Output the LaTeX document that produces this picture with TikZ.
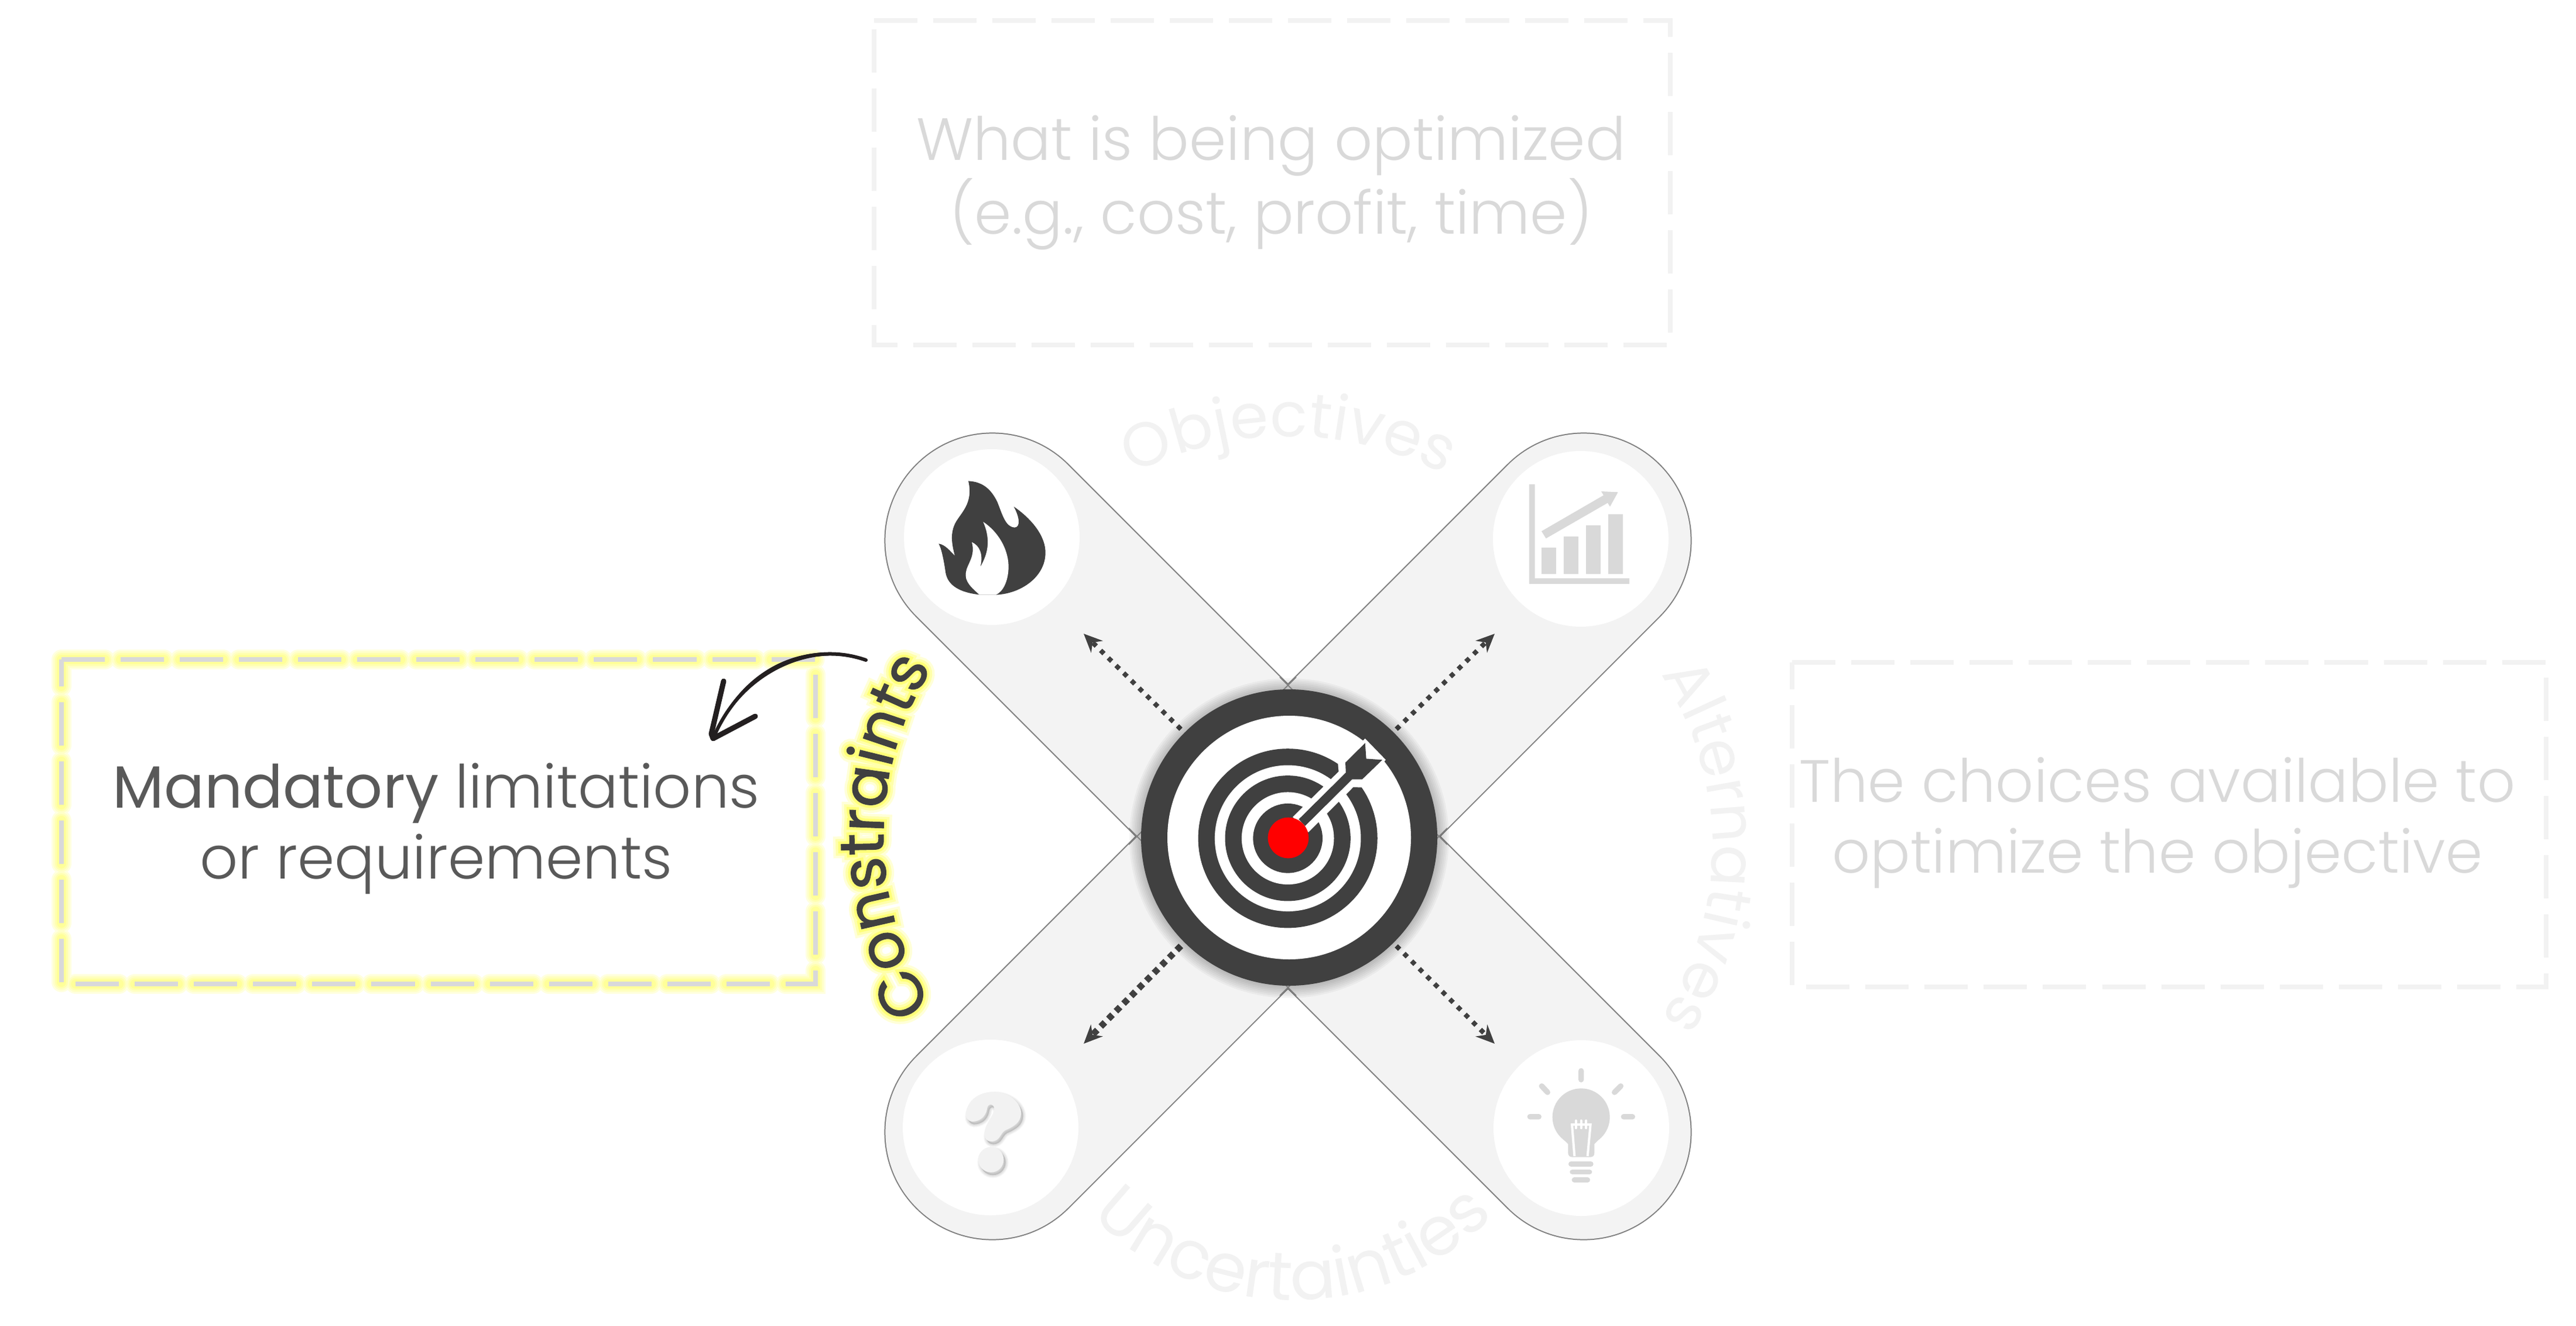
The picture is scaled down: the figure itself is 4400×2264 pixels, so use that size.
\documentclass[tikz,border=0pt]{standalone}
\usepackage{fontspec}
\usetikzlibrary{arrows.meta,calc,positioning}
\usetikzlibrary{decorations.text}
\setmainfont{Poppins Light}
\newfontfamily\popregular{Poppins}
\newfontfamily\glowwide{Poppins}[FakeBold=26]
\newfontfamily\glowmid{Poppins}[FakeBold=18]
\newfontfamily\glowthin{Poppins}[FakeBold=10]
\newfontfamily\popstroked{Poppins}[FakeBold=1.2]
\def\px{0.2845pt}
\definecolor{armgray}{HTML}{F3F3F3}
\definecolor{labelgray}{HTML}{F2F2F2}
\definecolor{edgegray}{HTML}{808080}
\definecolor{fadegray}{HTML}{D9D9D9}
\definecolor{darkicon}{HTML}{404040}
\definecolor{bodygray}{HTML}{595959}
\definecolor{penblack}{HTML}{231F20}
\newcommand{\bodysize}{\fontsize{28.95pt}{34.4pt}\selectfont}
\newcommand{\conssize}{\fontsize{30pt}{36pt}}
\tikzset{>={Stealth[length=9pt,width=8pt]}}
\tikzset{
  armedge/.style={line width=369*\px,edgegray,line cap=round},
  armfill/.style={line width=365*\px,armgray,line cap=round},
  iconback/.style={fill=white},
  dashframe/.style={line width=8.5*\px,dash pattern=on 74*\px off 27*\px},
  framenode/.style={minimum width=1286*\px,minimum height=552*\px,inner sep=0pt},
  bodytext/.style={align=center,font=\bodysize,inner sep=0pt},
  dotline/.style={->,darkicon,line width=8*\px,dash pattern=on 8*\px off 10.4*\px},
  curvelabel/.style 2 args={decorate,decoration={text along path,text align=center,text={|\popregular\fontsize{#1}{#1}\selectfont\color{labelgray}|#2}}},
  conslabel/.style 2 args={decorate,decoration={text along path,text align=center,text={|#1\conssize\selectfont\color{#2}|Constraints}}},
}
\newcommand{\conscurve}{plot[domain=220:140,samples=70] ({2051+542*cos(\x)},{1428-542*sin(\x)})}
\newcommand{\qmarkpath}{(150,185) .. controls (155,120) and (210,75) .. (290,72) .. controls (370,72) and (435,130) .. (432,185) .. controls (430,230) and (395,250) .. (350,270) .. controls (325,285) and (325,325) .. (280,327) .. controls (245,325) and (240,295) .. (250,260) .. controls (260,220) and (295,190) .. (295,160) .. controls (295,135) and (262,125) .. (258,160) .. controls (250,205) and (215,225) .. (180,225) .. controls (160,222) and (148,205) .. (150,185) -- cycle (278,420) circle (65)}

\begin{document}
\begin{tikzpicture}[x=0.01cm,y=-0.01cm]
\useasboundingbox (0,0) rectangle (4400,2264);
\coordinate (capnw) at (1695,923);
\coordinate (capne) at (2705,923);
\coordinate (capsw) at (1695,1933);
\coordinate (capse) at (2705,1933);

% the crossed arms
\draw [armedge] (capnw) -- (capse);
\draw [armedge] (capne) -- (capsw);
\draw [armfill] (capnw) -- (capse);
\draw [armfill] (capne) -- (capsw);
\fill [iconback] (1694,917) circle (150);
\fill [iconback] (2700,920) circle (150);
\fill [iconback] (1692,1925) circle (150);
\fill [iconback] (2701,1926) circle (150);

% flame
\begin{scope}[shift={(1500,780)},scale=.3333]
  \fill [darkicon] (462,124) .. controls (540,128) and (580,170) .. (610,230) .. controls (635,290) and (650,360) .. (700,362) .. controls (730,360) and (725,310) .. (695,255) .. controls (790,320) and (860,410) .. (857,495) .. controls (855,610) and (740,700) .. (603,707) -- (518,706) .. controls (420,695) and (355,660) .. (345,590) .. controls (338,540) and (325,470) .. (310,445) .. controls (345,450) and (370,485) .. (393,507) .. controls (375,440) and (370,390) .. (395,340) .. controls (420,290) and (490,240) .. (462,124) -- cycle;
  \fill [white] (538,333) .. controls (610,380) and (670,470) .. (668,570) .. controls (665,640) and (640,690) .. (603,707) -- (518,706) .. controls (480,670) and (440,640) .. (450,590) .. controls (455,550) and (500,510) .. (480,437) .. controls (520,455) and (540,500) .. (523,565) .. controls (560,500) and (580,430) .. (538,333) -- cycle;
\end{scope}

% chart
\begin{scope}[shift={(2540,780)},scale=.3333]
  \fill [fadegray] (216,141)--(245,141)--(245,622)--(729,622)--(729,651)--(216,651)--cycle;
  \fill [fadegray] (279,465) rectangle (354,600);
  \fill [fadegray] (393,408) rectangle (468,600);
  \fill [fadegray] (507,351) rectangle (582,600);
  \fill [fadegray] (621,295) rectangle (696,600);
  \fill [fadegray] (279,381)--(302,418)--(618,236)--(630,255)--(671,181)--(585,177)--(597,197)--cycle;
\end{scope}

% question mark
\begin{scope}[shift={(1600,1840)},scale=.3333]
  \foreach \w in {30,22,14,6}
    \fill [black,opacity=.035,draw=black,line width=\w*\px*.3333,shift={(10,14)}] \qmarkpath;
  \fill [labelgray] \qmarkpath;
\end{scope}

% lamp
\begin{scope}[shift={(2600,1820)},scale=.3333]
  \fill [fadegray] (302,262) circle (147);
  \fill [fadegray] (205,370) -- (235,400) -- (235,445) .. controls (235,460) and (245,467) .. (258,467) -- (348,467) .. controls (362,467) and (370,460) .. (370,445) -- (370,400) -- (400,370) -- cycle;
  \draw [fadegray,line width=28*\px*.3333,line cap=round] (302,25)--(302,70) (100,103)--(130,135) (505,103)--(473,135) (40,260)--(85,260) (520,260)--(565,260);
  \draw [fadegray,line width=26*\px*.3333,line cap=round] (250,502)--(352,502) (257,543)--(345,543) (267,584)--(335,584);
  \draw [white,line width=12*\px*.3333] (268,462)--(255,300)--(350,300)--(335,462);
  \draw [white,line width=12*\px*.3333,line cap=round] (275,280)--(275,318) (302,280)--(302,318) (328,280)--(328,318);
\end{scope}

% dotted arrows
\coordinate (tailnw) at (2017,1245);
\coordinate (tipnw) at (1851,1082);
\coordinate (tailne) at (2385,1245);
\coordinate (tipne) at (2553,1082);
\coordinate (tailsw) at (2017,1615);
\coordinate (tipsw) at (1851,1782);
\coordinate (tailse) at (2385,1615);
\coordinate (tipse) at (2553,1782);
\draw [dotline] (tailnw) -- (tipnw);
\draw [dotline] (tailne) -- (tipne);
\draw [dotline,line width=11*\px,dash pattern=on 10*\px off 8.4*\px] (tailsw) -- (tipsw);
\draw [dotline] (tailse) -- (tipse);

% centre disc
\foreach \r in {2,5,...,20}
  \fill [black,opacity=.035] (2202,1431) circle (253+\r);
\begin{scope}
  \clip (2200,1428) circle (272);
  \draw [edgegray,line width=2*\px] (2129,1099) -- (2529,1499);
  \draw [edgegray,line width=2*\px] (1871,1357) -- (2271,1757);
  \draw [edgegray,line width=2*\px] (2271,1099) -- (1871,1499);
  \draw [edgegray,line width=2*\px] (2529,1357) -- (2129,1757);
\end{scope}
\fill [darkicon] (2202,1430) circle (253);
\fill [white] (2202,1430) circle (208);
\begin{scope}[shift={(1900,1150)},scale=.3827]
  \fill [darkicon] (783,735) circle (400);
  \fill [white] (783,735) circle (326);
  \fill [darkicon] (783,735) circle (280);
  \fill [white] (783,735) circle (206);
  \fill [darkicon] (783,735) circle (155);
  \fill [white] (805,640)--(1010,437)--(1007,405)--(1128,290)--(1220,385)--(1112,508)--(1075,507)--(875,708)--cycle;
  \fill [darkicon] (832,650)--(1042,442)--(1040,397)--(1128,310)--(1133,380)--(1205,385)--(1115,472)--(1070,472)--(860,680)--cycle;
  \fill [red] (785,733) circle (91);
\end{scope}

% faded boxes
\node (goalbox) [framenode,minimum width=1358*\px] at (2173,312) {};
\draw [dashframe,labelgray] (goalbox.north west) -- (goalbox.north east) -- (goalbox.south east) -- (goalbox.south west) -- cycle;
\node (goaltext) [bodytext,text=fadegray] at (2171,312) {What is being optimized\\(e.g., cost, profit, time)};
\node (choicebox) [framenode] at (3705,1408) {};
\draw [dashframe,labelgray] (choicebox.north west) -- (choicebox.north east) -- (choicebox.south east) -- (choicebox.south west) -- cycle;
\node (choicetext) [bodytext,text=fadegray] at (3685,1405) {The choices available to\\optimize the objective};

% highlighted box
\node (mandbox) [framenode] at (749,1403) {};
\foreach \w/\c in {34/FFFFE0,28/FFFFC8,22/FFFFB0,16/FFFF99}{
  \definecolor{glowc}{HTML}{\c}
  \draw [dashframe,glowc,line width=\w*\px,line cap=round] (mandbox.north west) -- (mandbox.north east) -- (mandbox.south east) -- (mandbox.south west) -- cycle;
}
\draw [dashframe,fadegray] (mandbox.north west) -- (mandbox.north east) -- (mandbox.south east) -- (mandbox.south west) -- cycle;
\node (mandtext) [bodytext,text=bodygray] at (745,1415) {{\popregular Mandatory} limitations\\or requirements};

% curved labels
\path [curvelabel={30pt}{Objectives}] plot[domain=140:40,samples=70] ({2201+577*cos(\x)},{1322-577*sin(\x)});
\path [curvelabel={30pt}{Alternatives}] plot[domain=50:-50,samples=70] ({2392+533*cos(\x)},{1445-533*sin(\x)});
\path [curvelabel={33pt}{Uncertainties}] plot[domain=200:340,samples=90] ({2208+480*cos(\x)},{1740-480*sin(\x)});

% glow behind the constraints label
\definecolor{glowa}{HTML}{FFFFD8}
\definecolor{glowb}{HTML}{FFFFAA}
\definecolor{glowd}{HTML}{FFFF77}
\path [conslabel={\glowwide}{glowa}] \conscurve;
\path [conslabel={\glowmid}{glowb}] \conscurve;
\path [conslabel={\glowthin}{glowd}] \conscurve;
\path [conslabel={\popstroked}{darkicon}] \conscurve;

% hand drawn arrow
\coordinate (penstart) at (1479,1127);
\coordinate (pentip) at (1218,1261);
\coordinate (penbarba) at (1236,1163);
\coordinate (penbarbb) at (1290,1223);
\fill [penblack] (penstart) .. controls (1380,1088) and (1262,1140) .. (pentip) .. controls (1270,1150) and (1380,1098) .. (penstart) -- cycle;
\draw [penblack,line width=9*\px,line cap=round,line join=round] (penbarba) -- ($(pentip)+(-3,-8)$) -- (pentip) -- (penbarbb);
\draw [penblack,line width=6*\px,line cap=round] (penstart) .. controls (1380,1092) and (1266,1146) .. (pentip);
\end{tikzpicture}
\end{document}
